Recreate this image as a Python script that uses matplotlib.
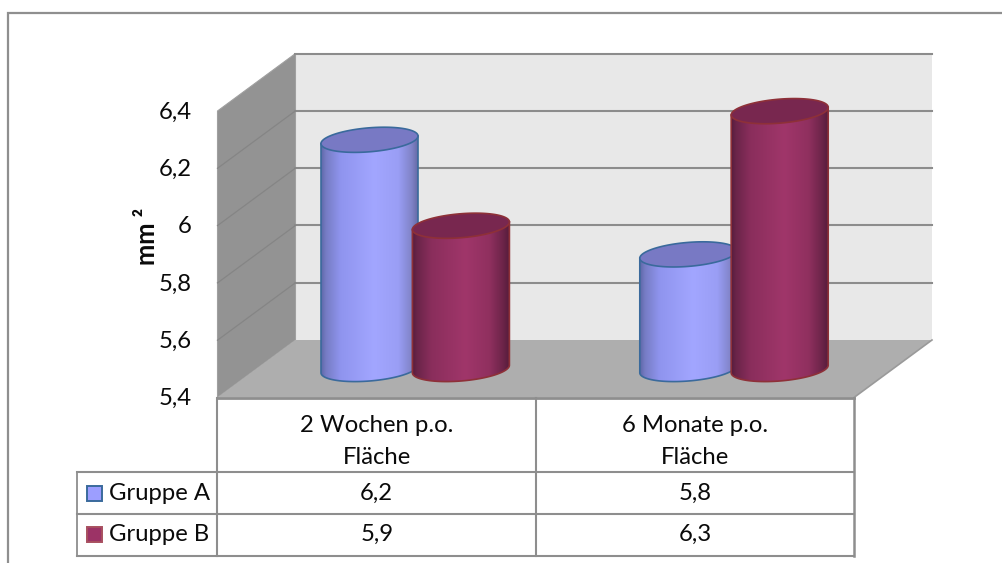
import numpy as np
import matplotlib
matplotlib.use("Agg")
import matplotlib.pyplot as plt
from matplotlib.colors import LinearSegmentedColormap
from matplotlib.patches import Polygon

# Data
categories = ["2 Wochen p.o.\nFläche", "6 Monate p.o.\nFläche"]
group_names = ["Gruppe A", "Gruppe B"]
gruppe_a = [6.2, 5.8]
gruppe_b = [5.9, 6.3]
y_ticks = [5.4, 5.6, 5.8, 6.0, 6.2, 6.4]
y_tick_labels = ["5,4", "5,6", "5,8", "6", "6,2", "6,4"]

W, H = 1003, 563
plt.rcParams["font.family"] = ["Lato", "DejaVu Sans"]
GRID = "#8c8c8c"
TXT = "#0a0a0a"
FS = 17.2

fig = plt.figure(figsize=(W / 100, H / 100), dpi=100, facecolor="white")

# Pixel-space layer for the 3D box and the data table
ax = fig.add_axes([0, 0, 1, 1])
ax.set_xlim(0, W)
ax.set_ylim(H, 0)
ax.axis("off")

# Value-space layer: vertical scale of the cylinders
PX_PER_UNIT = 286.5
BASE_PX = 369.0
FLOOR = y_ticks[0]
val = fig.add_axes([0, 0, 1, 1], facecolor="none")
val.set_xlim(0, W)
val.set_ylim(FLOOR - (H - BASE_PX) / PX_PER_UNIT, FLOOR + BASE_PX / PX_PER_UNIT)
val.axis("off")

# Outer chart frame, running off the right and bottom edges
ax.plot([8, 8, W], [H, 13, 13], color="#8f8f8f", lw=1.6, solid_joinstyle="miter")

# 3D box geometry
FX0, FX1 = 217.5, 854.0
DX, DY = 78.0, -57.5
FRONT_BOTTOM = 397.5


def front_y(v):
    return FRONT_BOTTOM - (v - FLOOR) * PX_PER_UNIT


top = front_y(y_ticks[-1])
ax.add_patch(Polygon([(FX0 + DX, top + DY), (FX1 + DX, top + DY),
                      (FX1 + DX, FRONT_BOTTOM + DY), (FX0 + DX, FRONT_BOTTOM + DY)],
                     fc="#e8e8e8", ec="none", zorder=1))
ax.add_patch(Polygon([(FX0, top), (FX0 + DX, top + DY),
                      (FX0 + DX, FRONT_BOTTOM + DY), (FX0, FRONT_BOTTOM)],
                     fc="#939393", ec="#a0a0a0", lw=0.8, zorder=2))
ax.add_patch(Polygon([(FX0, FRONT_BOTTOM), (FX0 + DX, FRONT_BOTTOM + DY),
                      (FX1 + DX, FRONT_BOTTOM + DY), (FX1, FRONT_BOTTOM)],
                     fc="#aeaeae", ec="none", zorder=2))
ax.plot([FX1, FX1 + DX], [FRONT_BOTTOM, FRONT_BOTTOM + DY], color="#9a9a9a", lw=1.2, zorder=3)

for tick, label in zip(y_ticks, y_tick_labels):
    y = front_y(tick)
    if tick > FLOOR:
        ax.plot([FX0 + DX, FX1 + DX], [y + DY, y + DY], color=GRID, lw=1.5, zorder=3)
    if FLOOR < tick < y_ticks[-1]:
        ax.plot([FX0, FX0 + DX], [y, y + DY], color="#858585", lw=0.9, zorder=3)
    ax.text(192, y + 1, label, ha="right", va="center", fontsize=FS, color=TXT)

ax.text(147, 236, "mm ²", rotation=90, ha="center", va="center",
        fontsize=18.4, fontweight="bold", color=TXT)

# Cylinders
R_X, R_Y, TILT = 48.5, 12.0, 3.8
OFFSET = 45.7
CENTRES = [415.2, 734.0]
STOPS = [0.0, 0.05, 0.20, 0.55, 0.80, 0.94, 1.0]
COL_A = {"ramp": ["#5e68a8", "#767cc4", "#8f94ee", "#a2a6ff", "#9a9ef5", "#7f82c6", "#666aa6"],
         "top": "#7879c4", "edge": "#3a6a9c"}
COL_B = {"ramp": ["#551c3d", "#6a2449", "#8a2e5c", "#a0366a", "#90305f", "#6c2449", "#581d3d"],
         "top": "#78274f", "edge": "#8e3038"}


def to_value(px_height):
    return px_height / PX_PER_UNIT


def cylinder(cx, value, colours, z):
    t = np.linspace(0, 2 * np.pi, 160)
    rim_x = cx + R_X * np.cos(t)
    rim_dv = to_value(TILT) * np.cos(t) + to_value(R_Y) * np.sin(t)

    lower = np.linspace(np.pi, 2 * np.pi, 80)
    bx = cx + R_X * np.cos(lower)
    bv = FLOOR + to_value(TILT) * np.cos(lower) + to_value(R_Y) * np.sin(lower)
    body = np.vstack([np.column_stack([bx, bv]),
                      [cx + R_X, value + to_value(TILT)],
                      [cx - R_X, value - to_value(TILT)]])
    patch = Polygon(body, fc="none", ec=colours["edge"], lw=1.2, zorder=z + 0.2)
    val.add_patch(patch)

    cmap = LinearSegmentedColormap.from_list("cyl", list(zip(STOPS, colours["ramp"])))
    grad = np.linspace(0, 1, 256).reshape(1, -1)
    im = val.imshow(grad, cmap=cmap, aspect="auto", zorder=z + 0.1,
                    extent=(cx - R_X, cx + R_X, FLOOR - 0.1, value + 0.1))
    im.set_clip_path(Polygon(body, transform=val.transData))

    val.fill(rim_x, value + rim_dv, fc=colours["top"], ec=colours["edge"], lw=1.2, zorder=z + 0.3)


for i, cx in enumerate(CENTRES):
    cylinder(cx - OFFSET, gruppe_a[i], COL_A, 4)
    cylinder(cx + OFFSET, gruppe_b[i], COL_B, 5)
val.set_xlim(0, W)
val.set_ylim(FLOOR - (H - BASE_PX) / PX_PER_UNIT, FLOOR + BASE_PX / PX_PER_UNIT)

# Data table under the plot
TX0 = 77.5
COLS = [FX0, 536.0, FX1]
ROWS = [FRONT_BOTTOM, 472.0, 514.0, 555.5]
LINE = "#8e8e8e"
ax.plot([FX0, FX1], [ROWS[0], ROWS[0]], color=LINE, lw=2, zorder=3)
for y in ROWS[1:]:
    ax.plot([TX0, FX1], [y, y], color=LINE, lw=1.5, zorder=3)
ax.plot([FX0, FX0], [ROWS[0], ROWS[-1]], color=LINE, lw=1.5, zorder=3)
ax.plot([COLS[1], COLS[1]], [ROWS[0], ROWS[-1]], color=LINE, lw=1.5, zorder=3)
ax.plot([FX1, FX1], [ROWS[0], ROWS[-1]], color=LINE, lw=1.8, zorder=3)
ax.plot([TX0, TX0], [ROWS[1], ROWS[-1]], color=LINE, lw=1.3, zorder=3)

for j, cat in enumerate(categories):
    mid = (COLS[j] + COLS[j + 1]) / 2
    head, sub = cat.split("\n")
    ax.text(mid, 425, head, ha="center", va="center", fontsize=FS, color=TXT)
    ax.text(mid, 457, sub, ha="center", va="center", fontsize=FS, color=TXT)

rows = [(group_names[0], gruppe_a, "#9c9eff", "#3a6a9c"),
        (group_names[1], gruppe_b, "#9c3366", "#a8505f")]
for r, (name, values, fill, edge) in enumerate(rows):
    yc = (ROWS[r + 1] + ROWS[r + 2]) / 2
    ax.add_patch(Polygon([(87, yc - 7.5), (102, yc - 7.5), (102, yc + 7.5), (87, yc + 7.5)],
                         fc=fill, ec=edge, lw=1.4, zorder=3))
    ax.text(109, yc, name, ha="left", va="center", fontsize=FS, color=TXT)
    for j, v in enumerate(values):
        mid = (COLS[j] + COLS[j + 1]) / 2
        ax.text(mid, yc, f"{v:.1f}".replace(".", ","), ha="center", va="center",
                fontsize=FS, color=TXT)

fig.savefig("out.png", dpi=100)
